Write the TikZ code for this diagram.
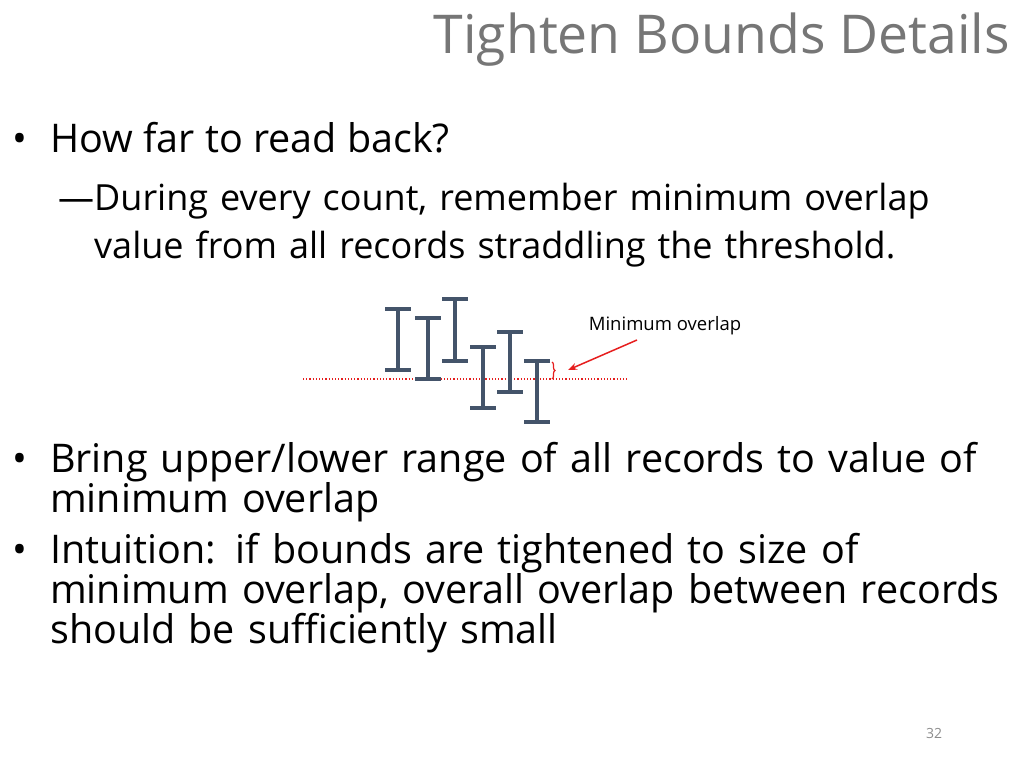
\documentclass[tikz,border=0pt]{standalone}
\usepackage{fontspec}
\setmainfont{Open Sans}
\usetikzlibrary{decorations.pathreplacing,arrows.meta}
\begin{document}
\begin{tikzpicture}[x=1pt,y=-1pt,
  bar/.style={draw={rgb,255:red,68;green,84;blue,106},line width=4.5pt},
  txt/.style={anchor=base west,inner sep=0pt,font=\fontsize{39.5}{40}\selectfont},
  sub/.style={anchor=base west,inner sep=0pt,font=\fontsize{36}{48}\selectfont},
  redc/.style={draw={rgb,255:red,230;green,30;blue,30}}]
\useasboundingbox (0,0) rectangle (1024,768);
\node[anchor=base east,inner sep=0pt,text={rgb,255:red,118;green,118;blue,118},font=\fontsize{53.5}{55}\selectfont] (title) at (1010,54) {Tighten Bounds Details};
\node[txt] (b1) at (12,152) {•};
\node[txt] (t1) at (50,152) {How far to read back?};
\node[sub] (d1) at (58,210) {—};
\node[sub,align=left,text width=940pt] (t2) at (94,210) {During every count, remember minimum overlap\\value from all records straddling the threshold.};
\draw[redc,line width=1.2pt,dotted] (303,379) coordinate (l0) -- (628,379) coordinate (l1);
\foreach \n/\x/\a/\b in {1/398/309/370,2/428/318/379,3/455/299/361,4/483/347/408,5/510/332/392,6/537/361/422}{
  \draw[bar] (\x-13,\a) -- (\x+13,\a) (\x,\a) -- (\x,\b) (\x-13,\b) -- (\x+13,\b);
  \coordinate (bar\n) at (\x,\a);
}
\draw[redc,line width=1.2pt,decorate,decoration={brace,amplitude=3pt}] (552,362) -- (552,379);
\node[inner sep=0pt,font=\fontsize{18.5}{20}\selectfont] (lab) at (665,326) {Minimum overlap};
\coordinate (tip) at (568,370);
\draw[redc,line width=1.5pt,-{Stealth[length=9pt,width=7pt]}] (637,340) -- (tip);
\node[txt] (b2) at (12,472) {•};
\node[txt,align=left,text width=990pt] (t3) at (50,472) {Bring upper/lower range of all records to value of\\minimum overlap};
\node[txt] (b3) at (12,563) {•};
\node[txt,align=left,text width=990pt] (t4) at (50,563) {Intuition: if bounds are tightened to size of\\minimum overlap, overall overlap between records\\should be sufficiently small};
\node[inner sep=0pt,text={rgb,255:red,140;green,140;blue,140},font=\fontsize{14}{16}\selectfont] (pg) at (934,733) {32};
\end{tikzpicture}
\end{document}
